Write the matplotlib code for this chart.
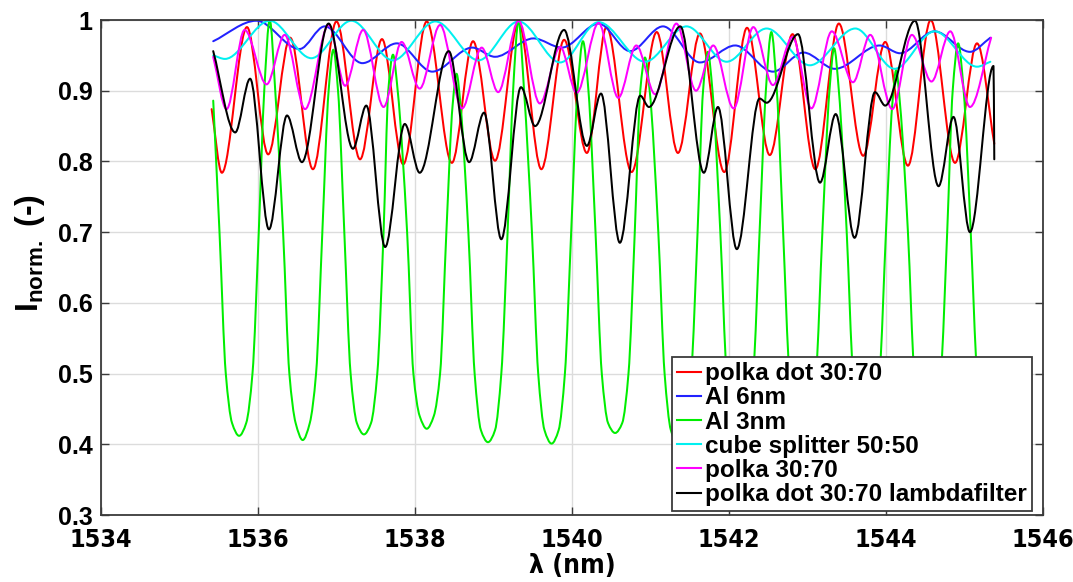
import matplotlib
matplotlib.use('Agg')
import matplotlib.pyplot as plt
from matplotlib.path import Path
from matplotlib.patches import PathPatch
from matplotlib.lines import Line2D

# ---------------- data ----------------
red_x = [1535.41, 1535.54, 1535.86, 1536.13, 1536.41, 1536.70, 1537.00, 1537.30, 1537.58, 1537.85,
         1538.15, 1538.47, 1538.74, 1539.02, 1539.32, 1539.61, 1539.90, 1540.19, 1540.44, 1540.76,
         1541.08, 1541.35, 1541.63, 1541.94, 1542.23, 1542.52, 1542.81, 1543.10, 1543.40, 1543.71,
         1543.99, 1544.28, 1544.57, 1544.88, 1545.16, 1545.38]
red_y = [0.874, 0.784, 0.990, 0.810, 0.975, 0.789, 0.998, 0.803, 0.973, 0.796,
         0.998, 0.798, 0.970, 0.801, 0.997, 0.789, 0.972, 0.812, 0.990, 0.785,
         0.983, 0.812, 0.981, 0.785, 0.989, 0.809, 0.980, 0.789, 0.995, 0.808,
         0.969, 0.794, 1.000, 0.798, 0.967, 0.825]

blue_x = [1535.43, 1535.98, 1536.53, 1536.85, 1537.33, 1537.77, 1538.22, 1538.73, 1539.02, 1539.51,
          1539.87, 1540.34, 1540.74, 1541.16, 1541.63, 1542.08, 1542.56, 1542.95, 1543.35, 1543.92,
          1544.18, 1544.62, 1545.07, 1545.33]
blue_y = [0.970, 0.999, 0.959, 0.991, 0.939, 0.967, 0.927, 0.961, 0.948, 0.974,
          0.961, 0.995, 0.956, 0.991, 0.940, 0.964, 0.927, 0.954, 0.931, 0.964,
          0.953, 0.984, 0.955, 0.975]

green_x = [1535.43, 1535.51, 1535.59, 1535.67, 1535.76, 1535.85, 1535.93, 1536.01,
           1536.08, 1536.15, 1536.22,
           1536.32, 1536.40, 1536.48, 1536.57, 1536.66, 1536.74, 1536.82,
           1536.90, 1536.96, 1537.02,
           1537.10, 1537.18, 1537.26, 1537.35, 1537.44, 1537.52, 1537.60,
           1537.66, 1537.72, 1537.78,
           1537.90, 1537.98, 1538.06, 1538.15, 1538.24, 1538.32, 1538.40,
           1538.48, 1538.53, 1538.58,
           1538.68, 1538.76, 1538.84, 1538.93, 1539.02, 1539.10, 1539.18,
           1539.25, 1539.32, 1539.39,
           1539.49, 1539.57, 1539.65, 1539.74, 1539.83, 1539.91, 1539.99,
           1540.07, 1540.14, 1540.21,
           1540.30, 1540.38, 1540.46, 1540.55, 1540.64, 1540.72, 1540.80,
           1540.87, 1540.93, 1540.99,
           1541.10, 1541.18, 1541.26, 1541.35, 1541.44, 1541.52, 1541.60,
           1541.67, 1541.73, 1541.79,
           1541.89, 1541.97, 1542.05, 1542.14, 1542.23, 1542.31, 1542.39,
           1542.47, 1542.54, 1542.61,
           1542.69, 1542.77, 1542.85, 1542.94, 1543.03, 1543.11, 1543.19,
           1543.28, 1543.34, 1543.40,
           1543.50, 1543.58, 1543.66, 1543.75, 1543.84, 1543.92, 1544.00,
           1544.08, 1544.13, 1544.18,
           1544.28, 1544.36, 1544.44, 1544.53, 1544.62, 1544.70, 1544.78,
           1544.85, 1544.92, 1544.99,
           1545.08, 1545.16, 1545.24, 1545.33, 1545.40]
green_y = [0.886, 0.70, 0.50, 0.43, 0.412, 0.43, 0.50, 0.70,
           0.90, 1.000, 0.90,
           0.70, 0.50, 0.43, 0.406, 0.43, 0.50, 0.70,
           0.90, 0.958, 0.90,
           0.70, 0.50, 0.43, 0.414, 0.43, 0.50, 0.70,
           0.90, 0.951, 0.90,
           0.70, 0.50, 0.44, 0.422, 0.44, 0.50, 0.70,
           0.88, 0.924, 0.88,
           0.70, 0.50, 0.42, 0.403, 0.42, 0.50, 0.70,
           0.90, 0.999, 0.90,
           0.70, 0.50, 0.42, 0.401, 0.42, 0.50, 0.70,
           0.90, 0.970, 0.90,
           0.70, 0.50, 0.43, 0.416, 0.43, 0.50, 0.70,
           0.90, 0.947, 0.90,
           0.70, 0.50, 0.42, 0.400, 0.42, 0.50, 0.70,
           0.90, 0.955, 0.90,
           0.70, 0.50, 0.43, 0.410, 0.43, 0.50, 0.70,
           0.90, 0.983, 0.90,
           0.70, 0.50, 0.43, 0.410, 0.43, 0.50, 0.70,
           0.90, 0.960, 0.90,
           0.70, 0.50, 0.43, 0.410, 0.43, 0.50, 0.70,
           0.88, 0.929, 0.88,
           0.70, 0.50, 0.43, 0.410, 0.43, 0.50, 0.70,
           0.90, 0.967, 0.90,
           0.70, 0.50, 0.43, 0.410, 0.42]

cyan_x = [1535.43, 1535.58, 1536.15, 1536.68, 1537.19, 1537.72, 1538.26, 1538.81, 1539.32, 1539.85,
          1540.34, 1540.93, 1541.46, 1541.97, 1542.48, 1543.03, 1543.61, 1544.11, 1544.62, 1545.16,
          1545.33]
cyan_y = [0.950, 0.945, 0.999, 0.946, 0.999, 0.943, 0.998, 0.943, 0.998, 0.940,
          0.997, 0.941, 0.991, 0.941, 0.988, 0.936, 0.988, 0.931, 0.984, 0.934,
          0.941]

mag_x = [1535.43, 1535.60, 1535.83, 1536.11, 1536.34, 1536.60, 1536.90, 1537.11, 1537.34, 1537.60,
         1537.83, 1538.06, 1538.32, 1538.60, 1538.85, 1539.06, 1539.32, 1539.59, 1539.85, 1540.06,
         1540.34, 1540.59, 1540.82, 1541.06, 1541.33, 1541.58, 1541.80, 1542.06, 1542.31, 1542.56,
         1542.81, 1543.05, 1543.31, 1543.58, 1543.80, 1544.08, 1544.33, 1544.58, 1544.82, 1545.07,
         1545.34]
mag_y = [0.948, 0.874, 0.986, 0.909, 0.979, 0.874, 0.993, 0.907, 0.986, 0.877,
         0.969, 0.903, 0.993, 0.875, 0.961, 0.898, 0.999, 0.882, 0.962, 0.897,
         0.996, 0.890, 0.964, 0.895, 0.995, 0.900, 0.964, 0.875, 0.990, 0.908,
         0.976, 0.875, 0.984, 0.912, 0.979, 0.874, 0.979, 0.913, 0.984, 0.877,
         0.975]

blk_x = [1535.43, 1535.71, 1535.90, 1536.14, 1536.37, 1536.56, 1536.90, 1537.21, 1537.38, 1537.62,
         1537.87, 1538.06, 1538.43, 1538.69, 1538.88, 1539.10, 1539.35, 1539.53, 1539.90, 1540.19,
         1540.37, 1540.61, 1540.87, 1540.98, 1541.38, 1541.68, 1541.86, 1542.10, 1542.39, 1542.48,
         1542.88, 1543.16, 1543.36, 1543.60, 1543.86, 1543.99, 1544.37, 1544.67, 1544.86, 1545.07,
         1545.37, 1545.38]
blk_y = [0.956, 0.841, 0.917, 0.704, 0.865, 0.799, 0.995, 0.818, 0.879, 0.679,
         0.853, 0.784, 0.956, 0.799, 0.869, 0.690, 0.905, 0.850, 0.986, 0.822,
         0.896, 0.685, 0.893, 0.877, 0.991, 0.784, 0.877, 0.676, 0.889, 0.883,
         0.980, 0.770, 0.867, 0.692, 0.898, 0.879, 0.999, 0.765, 0.863, 0.700,
         0.935, 0.803]

series_labels = ['polka dot 30:70', 'Al 6nm', 'Al 3nm', 'cube splitter 50:50',
                 'polka 30:70', 'polka dot 30:70 lambdafilter']
series_colors = ['#ff0000', '#2222ff', '#00ee00', '#00f0f0', '#ff00ff', '#000000']

x_ticks = [1534, 1536, 1538, 1540, 1542, 1544, 1546]
y_ticks = [0.3, 0.4, 0.5, 0.6, 0.7, 0.8, 0.9, 1.0]
y_ticklabels = ['0.3', '0.4', '0.5', '0.6', '0.7', '0.8', '0.9', '1']


def smooth_path(x, y):
    """Smooth curve through the given points (monotone cubic, drawn as Bezier path)."""
    n = len(x)
    h = [x[i + 1] - x[i] for i in range(n - 1)]
    d = [(y[i + 1] - y[i]) / h[i] for i in range(n - 1)]
    m = [0.0] * n
    m[0] = d[0]
    m[-1] = d[-1]
    for i in range(1, n - 1):
        if d[i - 1] * d[i] <= 0:
            m[i] = 0.0
        else:
            w1 = 2 * h[i] + h[i - 1]
            w2 = h[i] + 2 * h[i - 1]
            m[i] = (w1 + w2) / (w1 / d[i - 1] + w2 / d[i])
    verts = [(x[0], y[0])]
    codes = [Path.MOVETO]
    for i in range(n - 1):
        verts += [(x[i] + h[i] / 3, y[i] + m[i] * h[i] / 3),
                  (x[i + 1] - h[i] / 3, y[i + 1] - m[i + 1] * h[i] / 3),
                  (x[i + 1], y[i + 1])]
        codes += [Path.CURVE4] * 3
    return Path(verts, codes)


# ---------------- figure ----------------
plt.rcParams['font.family'] = ['Liberation Sans', 'DejaVu Sans']
plt.rcParams['mathtext.fontset'] = 'custom'
plt.rcParams['mathtext.bf'] = 'Liberation Sans:bold'
plt.rcParams['mathtext.rm'] = 'Liberation Sans'

fig = plt.figure(figsize=(10.73, 5.82), dpi=100)
ax = fig.add_axes([0.0941, 0.1151, 0.8779, 0.8505])

xs = [red_x, blue_x, green_x, cyan_x, mag_x, blk_x]
ys = [red_y, blue_y, green_y, cyan_y, mag_y, blk_y]
handles = []
for x, y, lab, col in zip(xs, ys, series_labels, series_colors):
    patch = PathPatch(smooth_path(x, y), fill=False, edgecolor=col, lw=1.45,
                      transform=ax.transData, zorder=2, capstyle='round', joinstyle='round')
    ax.add_patch(patch)
    handles.append(Line2D([], [], color=col, lw=1.5, label=lab))

ax.set_xlim(1534, 1546)
ax.set_ylim(0.3, 1.0)
ax.set_xticks(x_ticks)
ax.set_yticks(y_ticks)
ax.set_yticklabels(y_ticklabels)
ax.grid(True, color='#dcdcdc', lw=1.0)
ax.set_axisbelow(True)

for s in ax.spines.values():
    s.set_color('#3a3a3a')
    s.set_linewidth(1.3)
    s.set_zorder(5)
ax.tick_params(direction='in', length=6, width=1.0, color='#3a3a3a',
               top=True, right=True)
for t in ax.get_yticklabels():
    t.set_fontsize(18)
    t.set_fontweight('bold')
for t in ax.get_xticklabels():
    t.set_family('DejaVu Sans')
    t.set_stretch('condensed')
    t.set_fontsize(18)
    t.set_fontweight('bold')
ax.tick_params(axis='y', pad=6)
ax.tick_params(axis='x', pad=9)

ax.set_xlabel('λ (nm)', fontsize=19, fontweight='bold', family='DejaVu Sans',
              fontstretch='condensed', labelpad=1)
ax.set_ylabel(r'$\mathbf{I_{norm.}}$ (-)', fontsize=23, fontweight='bold')
ax.yaxis.set_label_coords(-0.057, 0.53)

leg = ax.legend(handles=handles, loc='lower right', bbox_to_anchor=(0.988, 0.008),
                borderaxespad=0, prop={'weight': 'bold', 'size': 17.5},
                handlelength=1.0, handletextpad=0.15, borderpad=0.2, labelspacing=0.05,
                fancybox=False, framealpha=1.0)
leg.get_frame().set_edgecolor('#3a3a3a')
leg.get_frame().set_linewidth(1.3)
leg.set_zorder(6)

fig.savefig('out.png', dpi=100)
